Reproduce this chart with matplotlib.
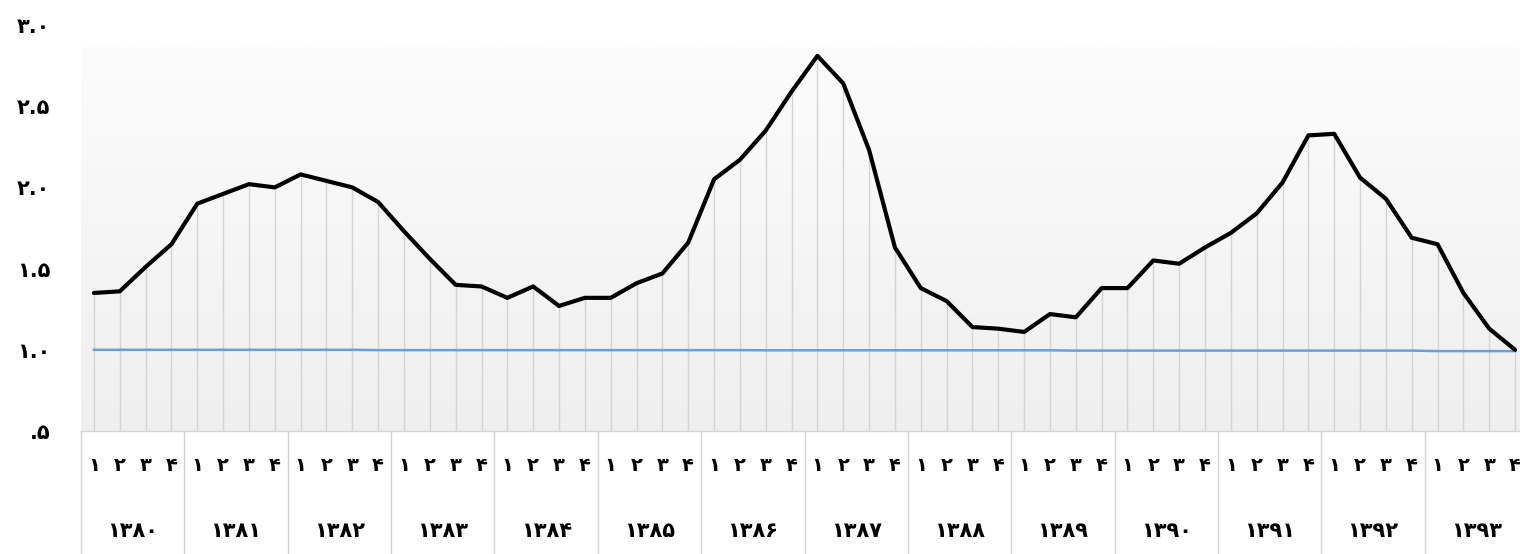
import numpy as np
import matplotlib
matplotlib.use('Agg')
import matplotlib.pyplot as plt
from matplotlib.colors import LinearSegmentedColormap

plt.rcParams['font.family'] = ['DejaVu Sans']

fa = str.maketrans('0123456789', '۰۱۲۳۴۵۶۷۸۹')

years = [1380, 1381, 1382, 1383, 1384, 1385, 1386, 1387, 1388, 1389, 1390, 1391, 1392, 1393]
quarters = ['1', '2', '3', '4']

# main series (black)
index = [1.35, 1.36, 1.51, 1.65, 1.90, 1.96, 2.02, 2.00, 2.08, 2.04,
         2.00, 1.91, 1.73, 1.56, 1.40, 1.39, 1.32, 1.39, 1.27, 1.32,
         1.32, 1.41, 1.47, 1.66, 2.05, 2.17, 2.35, 2.59, 2.81, 2.64,
         2.23, 1.63, 1.38, 1.30, 1.14, 1.13, 1.11, 1.22, 1.20, 1.38,
         1.38, 1.55, 1.53, 1.63, 1.72, 1.84, 2.03, 2.32, 2.33, 2.06,
         1.93, 1.69, 1.65, 1.35, 1.13, 1.00]

# reference series (blue)
base = [1.000, 1.000, 1.000, 1.000, 1.000, 1.000, 1.000, 1.000, 1.000, 1.000,
        1.000, 0.998, 0.998, 0.998, 0.998, 0.998, 0.998, 0.998, 0.998, 0.998,
        0.998, 0.998, 0.998, 0.998, 0.998, 0.998, 0.997, 0.997, 0.997, 0.997,
        0.997, 0.997, 0.997, 0.997, 0.997, 0.997, 0.997, 0.997, 0.995, 0.995,
        0.995, 0.995, 0.995, 0.995, 0.995, 0.995, 0.995, 0.995, 0.995, 0.995,
        0.995, 0.995, 0.992, 0.992, 0.992, 0.992]

yticks = [0.5, 1.0, 1.5, 2.0, 2.5, 3.0]
ylabels = ['.۵', '۱.۰', '۱.۵', '۲.۰', '۲.۵', '۳.۰']

x = np.arange(len(index))

fig = plt.figure(figsize=(15.2, 5.54), dpi=100)
ax = fig.add_axes([81/1520, 123/554, 1447/1520, 406/554])

# background gradient
cmap = LinearSegmentedColormap.from_list('bg', ['#efefef', '#fcfcfc'])
grad = np.linspace(0, 1, 256).reshape(-1, 1)
ax.imshow(grad, cmap=cmap, origin='lower', aspect='auto',
          extent=(-0.5, 55.5, 0.5, 2.86), zorder=0)

# drop lines
ax.vlines(x, 0.5, index, color='#d4d4d4', lw=1, zorder=1)

ax.plot(x, base, color='#6a9fd8', lw=1.8, zorder=2)
ax.plot(x, index, color='black', lw=3, zorder=3,
        solid_joinstyle='round', solid_capstyle='round')

ax.set_xlim(-0.5, 55.5)
ax.set_ylim(0.5, 3.0)
ax.set_yticks(yticks)
ax.set_yticklabels(ylabels, fontsize=15, fontweight='bold')
ax.tick_params(axis='y', length=0, pad=22)
ax.set_xticks([])
for s in ['left', 'right', 'top']:
    ax.spines[s].set_visible(False)
ax.spines['bottom'].set_color('#d4d4d4')
ax.spines['bottom'].set_linewidth(1)

# category axis: quarters and years in boxes
trans = ax.get_xaxis_transform()
for i, yr in enumerate(years):
    for j, q in enumerate(quarters):
        ax.text(i*4 + j, -0.086, q.translate(fa), transform=trans,
                ha='center', va='center', fontsize=14, fontweight='bold')
    ax.text(i*4 + 1.5, -0.246, str(yr).translate(fa), transform=trans,
            ha='center', va='center', fontsize=15, fontweight='bold')
for k in range(len(years) + 1):
    ax.plot([k*4 - 0.5, k*4 - 0.5], [0, -0.31], transform=trans,
            color='#d4d4d4', lw=1, clip_on=False)

fig.savefig('out.png', dpi=100)
